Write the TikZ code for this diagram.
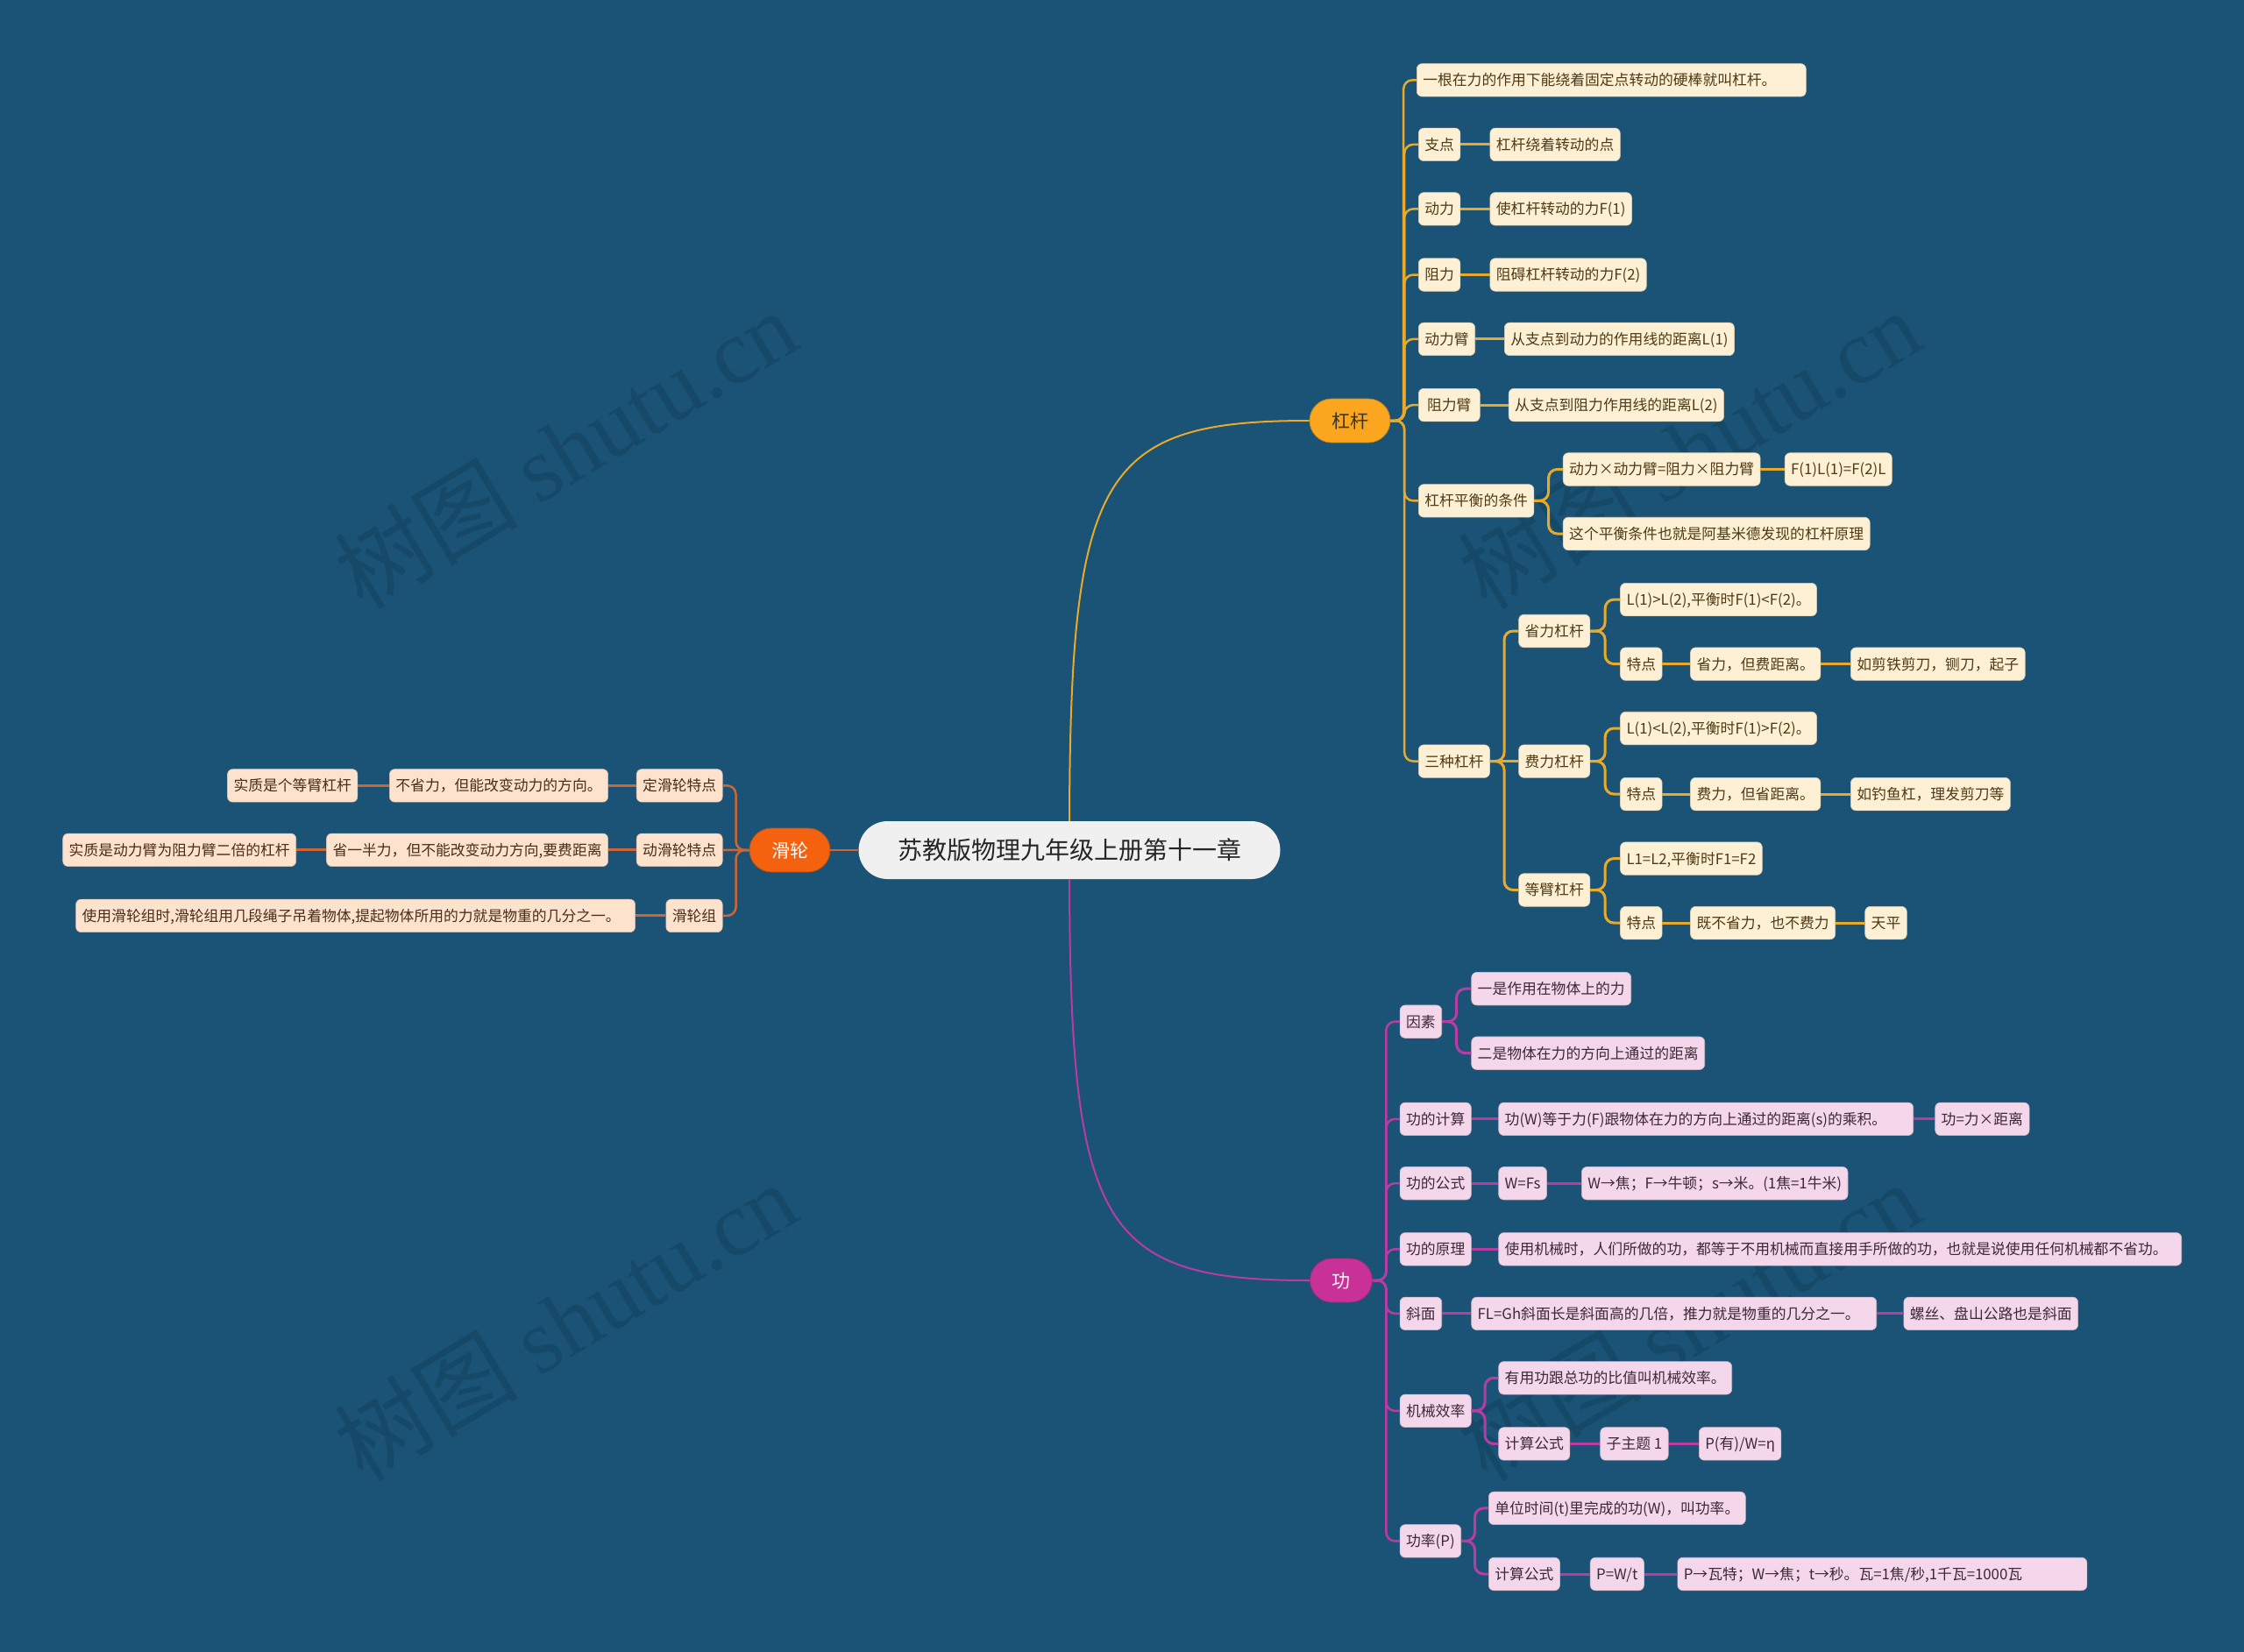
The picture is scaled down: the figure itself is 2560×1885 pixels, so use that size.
\documentclass[tikz,border=0pt]{standalone}
\usepackage{fontspec}
\setmainfont{Noto Sans CJK SC}
\newfontfamily\wmfont{Liberation Serif}
\usetikzlibrary{calc}
\definecolor{bg}{RGB}{26,83,118}
\definecolor{gold}{RGB}{232,170,40}
\definecolor{mag}{RGB}{185,60,165}
\definecolor{brn}{RGB}{205,102,52}
\definecolor{cream}{RGB}{253,240,212}
\definecolor{creamT}{RGB}{80,58,20}
\definecolor{pink}{RGB}{244,215,235}
\definecolor{pinkT}{RGB}{60,40,55}
\definecolor{peach}{RGB}{253,226,206}
\definecolor{peachT}{RGB}{75,45,25}
\definecolor{ggF}{RGB}{250,166,30}
\definecolor{gongF}{RGB}{200,50,150}
\definecolor{hlF}{RGB}{245,98,15}
\definecolor{cenF}{RGB}{240,240,240}
\newcommand\forkR[3]{\draw[#1,rounded corners=10pt] (#2.east) -- ($(#2.east)!.5!(#2.east-|#3.west)$) |- (#3.west);}
\newcommand\forkL[3]{\draw[#1,rounded corners=10pt] (#2.west) -- ($(#2.west)!.5!(#2.west-|#3.east)$) |- (#3.east);}
\tikzset{
  leafbase/.style={rounded corners=6pt, inner xsep=7pt, inner ysep=0pt, minimum height=37.5pt,
     text height=14.8pt, text depth=2pt, font=\fontsize{16.8}{18}\selectfont, line width=0.6pt},
  leafY/.style={leafbase, anchor=west, fill=cream, draw=cream!85!black, text=creamT},
  leafP/.style={leafbase, anchor=west, fill=pink, draw=pink!85!black, text=pinkT},
  leafO/.style={leafbase, anchor=east, fill=peach, draw=peach!85!black, text=peachT},
  wide/.style={text width=#1, align=left},
  branch/.style={rounded corners=25pt, minimum height=50pt, inner sep=0pt, font=\fontsize{21}{24}\selectfont,
     text height=18.5pt, text depth=2.5pt, line width=0.8pt},
  lnY/.style={draw=gold, line width=3pt},
  lnP/.style={draw=mag, line width=3pt},
  lnO/.style={draw=brn, line width=3pt},
  topY/.style={draw=gold, line width=2.5pt},
  topP/.style={draw=mag, line width=2.5pt},
  topO/.style={draw=brn, line width=2.5pt},
  wm/.style={rotate=31, text=black, opacity=0.12, font=\fontsize{105}{110}\selectfont}
}
\begin{document}
\begin{tikzpicture}[x=1pt,y=-1pt]
\fill[bg] (0,0) rectangle (2560,1885);
\useasboundingbox (0,0) rectangle (2560,1885);

% watermarks
\node[wm] (wmA) at (645,512) {树图 {\wmfont shutu.cn}};
\node[wm] (wmB) at (1927,512) {树图 {\wmfont shutu.cn}};
\node[wm] (wmC) at (645,1507) {树图 {\wmfont shutu.cn}};
\node[wm] (wmD) at (1927,1507) {树图 {\wmfont shutu.cn}};

% central and branches
\node[fill=cenF, text=black!85, rounded corners=33pt, minimum width=481pt, minimum height=66pt, inner sep=0pt,
      font=\fontsize{28}{30}\selectfont, text height=24.5pt, text depth=3.5pt] (c) at (1220,970) {苏教版物理九年级上册第十一章};
\node[branch, fill=ggF, draw=ggF!80!black, text=black!80, minimum width=92pt] (gg) at (1540,480) {杠杆};
\node[branch, fill=gongF, draw=gongF!80!black, text=white!92!pink, minimum width=71pt] (gong) at (1530,1461) {功};
\node[branch, fill=hlF, draw=hlF!80!black, text=white, minimum width=92pt] (hl) at (901,970) {滑轮};

\draw[gold, line width=2pt] (c.north) .. controls (1221,539) and (1257,480) .. (gg.west);
\draw[mag, line width=2pt] (c.south) .. controls (1221,1401) and (1257,1461) .. (gong.west);
\draw[brn, line width=2.5pt] (c.west) -- (hl.east);

% ---- 杠杆 subtree
\node[leafY, wide=430pt] (g1) at (1616,91.4) {一根在力的作用下能绕着固定点转动的硬棒就叫杠杆。};
\node[leafY] (g2) at (1618,164.9) {支点};
\node[leafY] (g2a) at (1699.6,164.9) {杠杆绕着转动的点};
\node[leafY] (g3) at (1618,238.4) {动力};
\node[leafY] (g3a) at (1699.6,238.4) {使杠杆转动的力F(1)};
\node[leafY] (g4) at (1618,313.5) {阻力};
\node[leafY] (g4a) at (1699.6,313.5) {阻碍杠杆转动的力F(2)};
\node[leafY] (g5) at (1618,386.9) {动力臂};
\node[leafY] (g5a) at (1716,386.9) {从支点到动力的作用线的距离L(1)};
\node[leafY, minimum width=70pt] (g6) at (1618,462.1) {阻力臂};
\node[leafY] (g6a) at (1720.9,462.1) {从支点到阻力作用线的距离L(2)};
\node[leafY] (g7) at (1618,571.4) {杠杆平衡的条件};
\node[leafY] (g7a) at (1782.9,535.5) {动力×动力臂=阻力×阻力臂};
\node[leafY] (g7b) at (2035.9,535.5) {F(1)L(1)=F(2)L};
\node[leafY] (g7c) at (1782.9,609) {这个平衡条件也就是阿基米德发现的杠杆原理};
\node[leafY] (g8) at (1618,868.6) {三种杠杆};
\node[leafY] (s1) at (1732.3,720) {省力杠杆};
\node[leafY] (s1a) at (1848.2,684.1) {L(1)>L(2),平衡时F(1)<F(2)。};
\node[leafY] (s1b) at (1848.2,757.6) {特点};
\node[leafY] (s1c) at (1928.2,757.6) {省力，但费距离。};
\node[leafY] (s1d) at (2111.1,757.6) {如剪铁剪刀，铡刀，起子};
\node[leafY] (s2) at (1732.3,868.6) {费力杠杆};
\node[leafY] (s2a) at (1848.2,831) {L(1)<L(2),平衡时F(1)>F(2)。};
\node[leafY] (s2b) at (1848.2,906.1) {特点};
\node[leafY] (s2c) at (1928.2,906.1) {费力，但省距离。};
\node[leafY] (s2d) at (2111.1,906.1) {如钓鱼杠，理发剪刀等};
\node[leafY] (s3) at (1732.3,1015.5) {等臂杠杆};
\node[leafY] (s3a) at (1848.2,979.6) {L1=L2,平衡时F1=F2};
\node[leafY] (s3b) at (1848.2,1053.1) {特点};
\node[leafY] (s3c) at (1928.2,1053.1) {既不省力，也不费力};
\node[leafY] (s3d) at (2127.4,1053.1) {天平};

\forkR{topY}{gg}{g1}
\forkR{topY}{gg}{g2}
\forkR{topY}{gg}{g3}
\forkR{topY}{gg}{g4}
\forkR{topY}{gg}{g5}
\forkR{topY}{gg}{g6}
\forkR{topY}{gg}{g7}
\forkR{topY}{gg}{g8}
\draw[lnY] (g2.east) -- (g2a.west);
\draw[lnY] (g3.east) -- (g3a.west);
\draw[lnY] (g4.east) -- (g4a.west);
\draw[lnY] (g5.east) -- (g5a.west);
\draw[lnY] (g6.east) -- (g6a.west);
\forkR{lnY}{g7}{g7a}
\forkR{lnY}{g7}{g7c}
\draw[lnY] (g7a.east) -- (g7b.west);
\forkR{lnY}{g8}{s1}
\forkR{lnY}{g8}{s3}
\draw[lnY] (g8.east) -- (s2.west);
\forkR{lnY}{s1}{s1a}
\forkR{lnY}{s1}{s1b}
\draw[lnY] (s1b.east) -- (s1c.west);
\draw[lnY] (s1c.east) -- (s1d.west);
\forkR{lnY}{s2}{s2a}
\forkR{lnY}{s2}{s2b}
\draw[lnY] (s2b.east) -- (s2c.west);
\draw[lnY] (s2c.east) -- (s2d.west);
\forkR{lnY}{s3}{s3a}
\forkR{lnY}{s3}{s3b}
\draw[lnY] (s3b.east) -- (s3c.west);
\draw[lnY] (s3c.east) -- (s3d.west);

% ---- 功 subtree
\node[leafP] (w1) at (1596.8,1165.7) {因素};
\node[leafP] (w1a) at (1678.4,1128.2) {一是作用在物体上的力};
\node[leafP] (w1b) at (1678.4,1201.7) {二是物体在力的方向上通过的距离};
\node[leafP] (w2) at (1596.8,1276.8) {功的计算};
\node[leafP, wide=459pt] (w2a) at (1709.4,1276.8) {功(W)等于力(F)跟物体在力的方向上通过的距离(s)的乘积。};
\node[leafP] (w2b) at (2207.4,1276.8) {功=力×距离};
\node[leafP] (w3) at (1596.8,1350.2) {功的公式};
\node[leafP] (w3a) at (1709.4,1350.2) {W=Fs};
\node[leafP] (w3b) at (1804.1,1350.2) {W→焦；F→牛顿；s→米。(1焦=1牛米)};
\node[leafP] (w4) at (1596.8,1425.3) {功的原理};
\node[leafP, wide=765pt] (w4a) at (1709.4,1425.3) {使用机械时，人们所做的功，都等于不用机械而直接用手所做的功，也就是说使用任何机械都不省功。};
\node[leafP] (w5) at (1596.8,1498.8) {斜面};
\node[leafP, wide=448pt] (w5a) at (1678.4,1498.8) {FL=Gh斜面长是斜面高的几倍，推力就是物重的几分之一。};
\node[leafP] (w5b) at (2171.5,1498.8) {螺丝、盘山公路也是斜面};
\node[leafP] (w6) at (1596.8,1609.8) {机械效率};
\node[leafP] (w6a) at (1709.4,1572.3) {有用功跟总功的比值叫机械效率。};
\node[leafP] (w6b) at (1709.4,1647.4) {计算公式};
\node[leafP] (w6c) at (1825.4,1647.4) {子主题 1};
\node[leafP] (w6d) at (1938,1647.4) {P(有)/W=η};
\node[leafP] (w7) at (1596.8,1758.4) {功率(P)};
\node[leafP] (w7a) at (1698,1720.9) {单位时间(t)里完成的功(W)，叫功率。};
\node[leafP] (w7b) at (1698,1796) {计算公式};
\node[leafP] (w7c) at (1813.9,1796) {P=W/t};
\node[leafP, wide=453pt] (w7d) at (1913.5,1796) {P→瓦特；W→焦；t→秒。瓦=1焦/秒,1千瓦=1000瓦};

\forkR{topP}{gong}{w1}
\forkR{topP}{gong}{w2}
\forkR{topP}{gong}{w3}
\forkR{topP}{gong}{w4}
\forkR{topP}{gong}{w5}
\forkR{topP}{gong}{w6}
\forkR{topP}{gong}{w7}
\forkR{lnP}{w1}{w1a}
\forkR{lnP}{w1}{w1b}
\draw[lnP] (w2.east) -- (w2a.west);
\draw[lnP] (w2a.east) -- (w2b.west);
\draw[lnP] (w3.east) -- (w3a.west);
\draw[lnP] (w3a.east) -- (w3b.west);
\draw[lnP] (w4.east) -- (w4a.west);
\draw[lnP] (w5.east) -- (w5a.west);
\draw[lnP] (w5a.east) -- (w5b.west);
\forkR{lnP}{w6}{w6a}
\forkR{lnP}{w6}{w6b}
\draw[lnP] (w6b.east) -- (w6c.west);
\draw[lnP] (w6c.east) -- (w6d.west);
\forkR{lnP}{w7}{w7a}
\forkR{lnP}{w7}{w7b}
\draw[lnP] (w7b.east) -- (w7c.west);
\draw[lnP] (w7c.east) -- (w7d.west);

% ---- 滑轮 subtree
\node[leafO] (h1) at (824.5,896.4) {定滑轮特点};
\node[leafO] (h1a) at (693.9,896.4) {不省力，但能改变动力的方向。};
\node[leafO] (h1b) at (408.2,896.4) {实质是个等臂杠杆};
\node[leafO] (h2) at (824.5,969.8) {动滑轮特点};
\node[leafO] (h2a) at (693.9,969.8) {省一半力，但不能改变动力方向,要费距离};
\node[leafO] (h2b) at (338,969.8) {实质是动力臂为阻力臂二倍的杠杆};
\node[leafO] (h3) at (824.5,1044.9) {滑轮组};
\node[leafO, wide=624pt] (h3a) at (724.9,1044.9) {使用滑轮组时,滑轮组用几段绳子吊着物体,提起物体所用的力就是物重的几分之一。};

\forkL{topO}{hl}{h1}
\forkL{topO}{hl}{h3}
\draw[topO] (hl.west) -- (h2.east);
\draw[lnO] (h1.west) -- (h1a.east);
\draw[lnO] (h1a.west) -- (h1b.east);
\draw[lnO] (h2.west) -- (h2a.east);
\draw[lnO] (h2a.west) -- (h2b.east);
\draw[lnO] (h3.west) -- (h3a.east);
\end{tikzpicture}
\end{document}
